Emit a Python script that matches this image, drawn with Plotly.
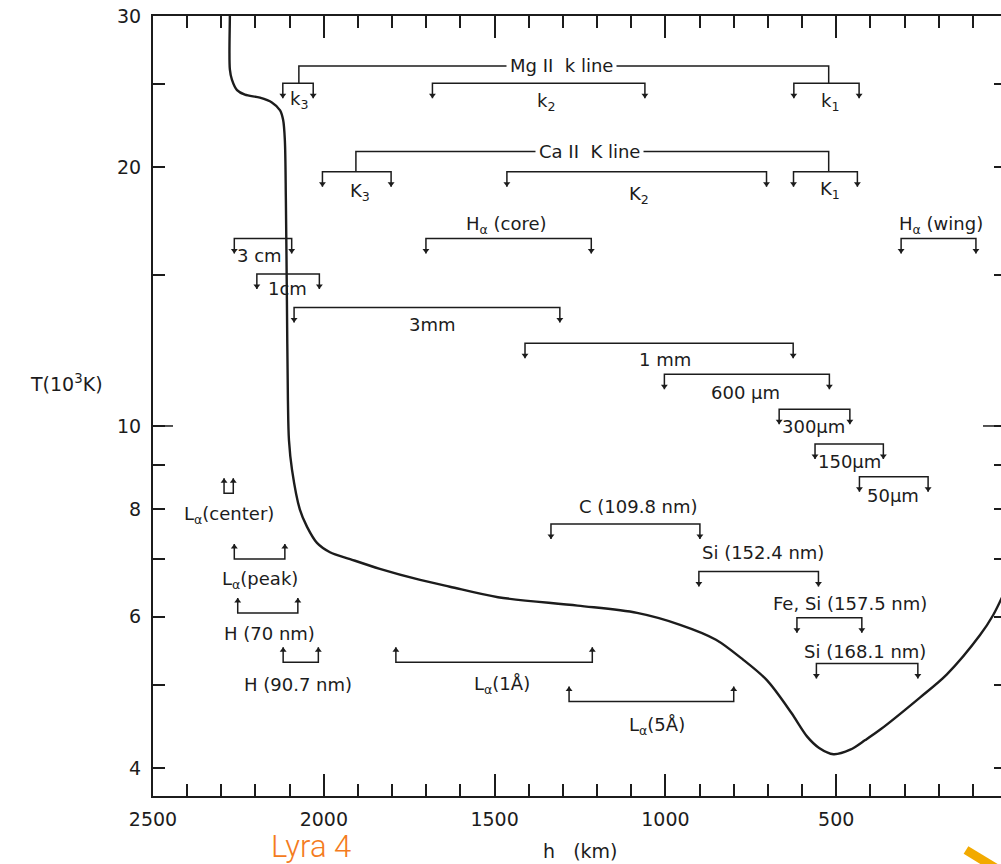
import numpy as np
import plotly.graph_objects as go

# Chromospheric temperature profile T(h), in 10^3 K versus height h in km
profile_h = [2275, 2275, 2275, 2269, 2254, 2231, 2187, 2152, 2128, 2119, 2114, 2111, 2108,
             2105, 2102, 2093, 2070, 2049, 2020, 1982, 1923, 1836, 1718, 1631, 1490, 1257,
             1083, 957, 852, 771, 703, 632, 585, 550, 508, 459, 415, 372, 255, 176, 79, 40, 12]
profile_T = [31.0, 30.0, 26.0, 25.3, 24.6, 24.3, 24.1, 23.8, 23.3, 22.7, 21.5, 18.3, 14.0,
             10.7, 9.63, 8.89, 7.99, 7.63, 7.31, 7.13, 7.00, 6.82, 6.62, 6.50, 6.32, 6.18,
             6.06, 5.87, 5.64, 5.34, 5.06, 4.64, 4.35, 4.22, 4.15, 4.20, 4.31, 4.43, 4.83,
             5.14, 5.71, 6.03, 6.35]

# Formation-height ranges: bar level T, start/end heights, arrow direction
range_names = ["k3", "k2", "k1", "K3", "K2", "K1", "Ha core", "Ha wing", "3 cm", "1 cm",
               "3 mm", "1 mm", "600 um", "300 um", "150 um", "50 um", "C 109.8", "Si 152.4",
               "Fe,Si 157.5", "Si 168.1", "La center", "La peak", "H 70", "H 90.7",
               "La 1A", "La 5A"]
range_h_start = [2120, 1682, 624, 2004, 1464, 625, 1701, 310, 2262, 2196,
                 2087, 1411, 1003, 667, 562, 432, 1335, 902,
                 615, 558, 2292, 2262, 2252, 2119,
                 1789, 1282]
range_h_end = [2031, 1060, 433, 1803, 704, 438, 1217, 91, 2094, 2013,
               1309, 626, 520, 460, 362, 231, 899, 552,
               425, 261, 2265, 2114, 2076, 2016,
               1214, 800]
range_T = [25.05, 25.05, 25.05, 19.77, 19.77, 19.77, 16.53, 16.53, 16.53, 15.03,
           13.74, 12.48, 11.49, 10.46, 9.53, 8.73, 7.69, 6.77,
           5.98, 5.29, 8.35, 7.00, 6.06, 5.31,
           5.31, 4.78]
range_dir = ["down"] * 20 + ["up"] * 6

# Line groupings joining the sub-ranges of the Mg II k and Ca II K lines
group_names = ["Mg II k line", "Ca II K line"]
group_h_start = [2073, 1906]
group_h_end = [522, 522]
group_T_top = [26.24, 20.86]
group_T_bar = [25.05, 19.77]

# Text labels and their positions (h, T)
label_text = ["Mg II  k line", "Ca II  K line", "k<sub>3</sub>", "k<sub>2</sub>", "k<sub>1</sub>",
              "K<sub>3</sub>", "K<sub>2</sub>", "K<sub>1</sub>", "H<sub>α</sub> (core)",
              "H<sub>α</sub> (wing)", "3 cm", "1cm", "3mm", "1 mm", "600 μm", "300μm",
              "150μm", "50μm", "C (109.8 nm)", "Si (152.4 nm)", "Fe, Si (157.5 nm)",
              "Si (168.1 nm)", "L<sub>α</sub>(center)", "L<sub>α</sub>(peak)", "H (70 nm)",
              "H (90.7 nm)", "L<sub>α</sub>(1Å)", "L<sub>α</sub>(5Å)"]
label_h = [1304, 1221, 2072, 1351, 517, 1894, 1077, 517, 1465, 193, 2187, 2105, 1681,
           1001, 767, 567, 460, 333, 1080, 714, 460, 416, 2278, 2187, 2158, 2075, 1477, 1026]
label_T = [26.24, 20.86, 23.95, 23.83, 23.83, 18.73, 18.57, 18.82, 17.14, 17.14, 15.77,
           14.44, 13.11, 11.94, 10.93, 9.98, 9.10, 8.30, 8.05, 7.12, 6.21, 5.47, 7.88,
           6.61, 5.74, 5.00, 5.00, 4.47]

y_tick_vals = [4, 5, 6, 7, 8, 9, 10, 15, 20, 25, 30]
y_tick_text = ["4", "", "6", "", "8", "", "10", "", "20", "", "30"]

INK = "#1c1c1c"
FONT = "DejaVu Sans"

W, H = 1001, 864
M_L, M_R, M_T, M_B = 153, 0, 16, 68
x_range = [2500, 17.6]
y_range = [np.log10(3.71), np.log10(30)]
plot_h_px = H - M_T - M_B
plot_w_px = W - M_L - M_R
dec_per_px = (y_range[1] - y_range[0]) / plot_h_px
km_per_px = (x_range[0] - x_range[1]) / plot_w_px

stem = 15 * dec_per_px       # arrow stem length, in decades
head_off = 3 * dec_per_px    # marker centre sits just behind the stem tip


def paper_x(px):
    return (px - M_L) / plot_w_px


def paper_y(py):
    return ((H - M_B) - py) / plot_h_px


fig = go.Figure()

# temperature curve
fig.add_trace(go.Scatter(x=profile_h, y=profile_T, mode="lines",
                         line=dict(color=INK, width=2.4, shape="spline", smoothing=0.9),
                         hoverinfo="skip"))

# brackets
bx, by = [], []
dn_x, dn_y, up_x, up_y = [], [], [], []
for h0, h1, T0, d in zip(range_h_start, range_h_end, range_T, range_dir):
    s = -1 if d == "down" else 1
    Ttip = T0 * 10 ** (s * stem)
    Tm = T0 * 10 ** (s * (stem - head_off))
    bx += [h0, h0, h1, h1, None]
    by += [Ttip, T0, T0, Ttip, None]
    if d == "down":
        dn_x += [h0, h1]
        dn_y += [Tm, Tm]
    else:
        up_x += [h0, h1]
        up_y += [Tm, Tm]

for h0, h1, Tt, Tb in zip(group_h_start, group_h_end, group_T_top, group_T_bar):
    bx += [h0, h0, h1, h1, None]
    by += [Tb, Tt, Tt, Tb, None]

fig.add_trace(go.Scatter(x=bx, y=by, mode="lines", line=dict(color=INK, width=1.5),
                         hoverinfo="skip"))
fig.add_trace(go.Scatter(x=dn_x, y=dn_y, mode="markers",
                         marker=dict(symbol="triangle-down", size=6, color=INK),
                         hoverinfo="skip"))
fig.add_trace(go.Scatter(x=up_x, y=up_y, mode="markers",
                         marker=dict(symbol="triangle-up", size=6, color=INK),
                         hoverinfo="skip"))

# longer ticks at T = 10 on both sides
long_left = 20 * km_per_px
long_right = 18 * km_per_px
fig.add_trace(go.Scatter(x=[x_range[0], x_range[0] - long_left, None,
                            x_range[1] + long_right, x_range[1]],
                         y=[10, 10, None, 10, 10], mode="lines",
                         line=dict(color=INK, width=1.5), hoverinfo="skip", cliponaxis=False))

# dummy trace to carry the right-hand tick axis
fig.add_trace(go.Scatter(x=[1000], y=[10], yaxis="y2", mode="markers",
                         marker=dict(opacity=0), hoverinfo="skip"))

for t, h, T in zip(label_text, label_h, label_T):
    boxed = t.startswith("Mg") or t.startswith("Ca")
    fig.add_annotation(x=h, y=np.log10(T), text=t, showarrow=False,
                       font=dict(family=FONT, size=18, color=INK),
                       bgcolor="white" if boxed else None, borderpad=3 if boxed else 0,
                       xanchor="center", yanchor="middle")

# axis titles
fig.add_annotation(xref="paper", x=paper_x(66), yref="y", y=np.log10(11.22),
                   xanchor="center", yanchor="middle",
                   text="T(10<sup>3</sup>K)", showarrow=False,
                   font=dict(family=FONT, size=19, color=INK))
fig.add_annotation(xref="paper", x=paper_x(580), yref="paper", y=paper_y(851),
                   xanchor="center", yanchor="middle", text="h   (km)", showarrow=False,
                   font=dict(family=FONT, size=19, color=INK))
fig.add_annotation(xref="paper", x=paper_x(311), yref="paper", y=paper_y(846),
                   xanchor="center", yanchor="middle", text="Lyra 4", showarrow=False,
                   font=dict(family="Roboto", size=31, color="#F47B20", weight=300))

fig.add_shape(type="line", xref="paper", yref="paper",
              x0=paper_x(966), y0=paper_y(850), x1=paper_x(1012), y1=paper_y(878),
              line=dict(color="#F2AA00", width=9), layer="above")

fig.update_layout(
    width=W, height=H, margin=dict(l=M_L, r=M_R, t=M_T, b=M_B, autoexpand=False),
    paper_bgcolor="white", plot_bgcolor="white", showlegend=False,
    xaxis=dict(range=x_range, showgrid=False, zeroline=False,
               showline=True, linecolor=INK, linewidth=2, mirror="ticks",
               ticks="inside", ticklen=22, tickwidth=1.5, tickcolor=INK,
               tick0=0, dtick=500, ticklabelstandoff=5,
               tickfont=dict(family=FONT, size=19, color=INK),
               minor=dict(ticks="inside", dtick=100, tick0=0, ticklen=12,
                          tickwidth=1.5, tickcolor=INK, showgrid=False)),
    yaxis=dict(type="log", range=y_range, showgrid=False, zeroline=False,
               showline=True, linecolor=INK, linewidth=2,
               ticks="inside", ticklen=12, tickwidth=1.5, tickcolor=INK,
               tickvals=y_tick_vals, ticktext=y_tick_text, ticklabelstandoff=6,
               tickfont=dict(family=FONT, size=19, color=INK)),
    yaxis2=dict(type="log", range=y_range, overlaying="y", side="right",
                showgrid=False, zeroline=False, showline=False,
                ticks="inside", ticklen=7, tickwidth=1.5, tickcolor=INK,
                tickvals=y_tick_vals, showticklabels=False),
)

fig.write_html("out.html")
